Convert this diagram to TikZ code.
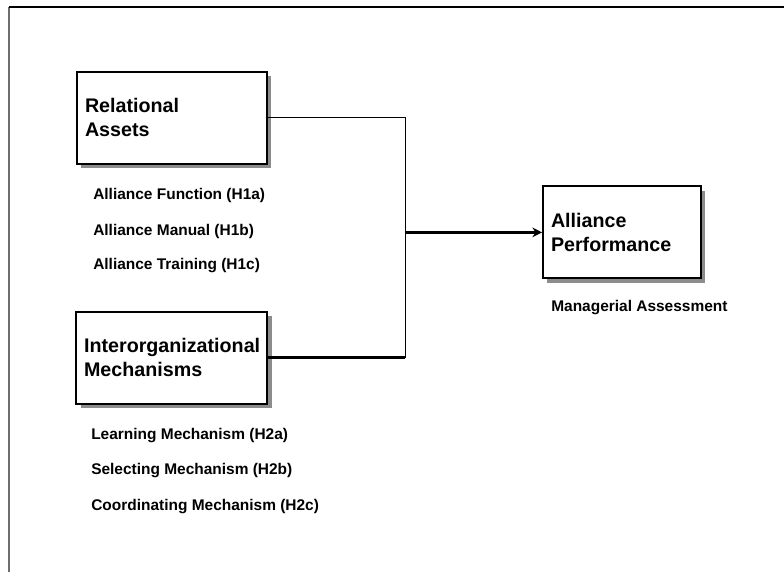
\documentclass[tikz,border=0pt]{standalone}
\usepackage{fontspec}
\setmainfont{Liberation Sans}
\usetikzlibrary{arrows.meta,positioning,shadows}
\definecolor{framegray}{HTML}{6E6E6E}
\tikzset{
  link/.style={line width=0.7pt,black},
  flow/.style={-{Stealth[length=2.4mm,width=2.4mm]},line width=1.9pt},
  box/.style={draw,line width=1.4pt,fill=white,align=left,inner xsep=0.2cm,
    minimum height=2.3cm,font=\fontsize{14}{17}\selectfont\bfseries,
    drop shadow={shadow xshift=0.11cm,shadow yshift=-0.11cm,fill=black!45,opacity=1}},
  itemtext/.style={anchor=west,inner sep=0pt,font=\fontsize{11}{13}\selectfont\bfseries}
}
\begin{document}
\begin{tikzpicture}[x=1cm,y=1cm]
\useasboundingbox (0,0) rectangle (19.6,14.3);
% page frame
\draw[framegray,line width=0.8pt] (0.225,0)--(0.225,14.125);
\draw[line width=0.8pt] (0.225,14.125)--(19.6,14.125);
% constructs
\node[box,text width=4.35cm] (ra) at (4.3,11.36) {Relational\\Assets};
\node[box,text width=4.375cm] (im) at (4.29,5.36) {Interorganizational\\Mechanisms};
\node[box,text width=3.55cm] (ap) at (15.55,8.49) {Alliance\\Performance};
% measures
\node[itemtext] (f1) at (2.325,9.42) {Alliance Function  (H1a)};
\node[itemtext] (f2) at (2.325,8.5) {Alliance Manual  (H1b)};
\node[itemtext] (f3) at (2.325,7.65) {Alliance Training  (H1c)};
\node[itemtext] (m1) at (2.275,3.4) {Learning Mechanism (H2a)};
\node[itemtext] (m2) at (2.275,2.525) {Selecting Mechanism (H2b)};
\node[itemtext] (m3) at (2.275,1.625) {Coordinating Mechanism (H2c)};
\node[itemtext] (pm) at (13.775,6.6) {Managerial Assessment};
% connectors
\coordinate (j) at (10.125,8.49);
\draw[link] (ra.east) -| (j);
\draw[link] (im.east) -| (j);
\draw[line width=1.8pt] (im.east)--(im.east -| j);
\draw[flow] (j)--(ap.west);
\end{tikzpicture}
\end{document}
